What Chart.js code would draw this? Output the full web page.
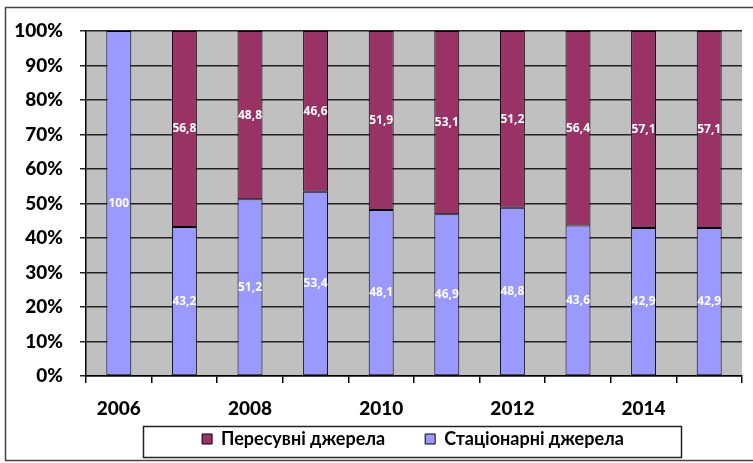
<!DOCTYPE html>
<html>
<head>
<meta charset="utf-8">
<script src="https://cdn.jsdelivr.net/npm/chart.js@4/dist/chart.umd.min.js"></script>
<style>
  html, body { margin: 0; padding: 0; background: #fff; }
  #wrap { width: 753px; height: 463px; }
</style>
</head>
<body>
<div id="wrap"><canvas id="grafik"></canvas></div>
<script>
const roky = ["2006", "2007", "2008", "2009", "2010", "2011", "2012", "2013", "2014", "2015"];
const stacionarni = [100, 43.2, 51.2, 53.4, 48.1, 46.9, 48.8, 43.6, 42.9, 42.9];
const peresuvni = [0, 56.8, 48.8, 46.6, 51.9, 53.1, 51.2, 56.4, 57.1, 57.1];
const vidsotky = [0, 10, 20, 30, 40, 50, 60, 70, 80, 90, 100];

const shryft = "Lato, 'Open Sans', sans-serif";

// сірий фон області побудови + рамки
const fonPlugin = {
    id: "fon",
    afterLayout(chart) {
        // легенда трохи правіше центру, як в оригіналі
        chart.legend.left += 42;
        chart.legend.right += 42;
    },
    beforeDraw(chart) {
        const { ctx, chartArea: a } = chart;
        ctx.save();
        ctx.fillStyle = "#C0C0C0";
        ctx.fillRect(a.left, a.top, a.right - a.left, a.bottom - a.top);
        ctx.restore();
    },
    afterDraw(chart) {
        const ctx = chart.ctx;
        ctx.save();
        // зовнішня рамка діаграми
        ctx.strokeStyle = "#444";
        ctx.lineWidth = 1.5;
        ctx.strokeRect(5.5, 7.5, 760, 453);
        // рамка легенди
        const l = chart.legend;
        ctx.strokeStyle = "#222";
        ctx.lineWidth = 1.5;
        ctx.strokeRect(143.5, l.top + 0.5, 538, l.height - 1);
        ctx.restore();
    }
};

// підписи значень у центрі сегментів
const pidpysyPlugin = {
    id: "pidpysy",
    afterDatasetsDraw(chart) {
        const ctx = chart.ctx;
        ctx.save();
        ctx.font = "bold 12px 'Open Sans', sans-serif";
        ctx.fillStyle = "#fff";
        ctx.textAlign = "center";
        ctx.textBaseline = "middle";
        chart.data.datasets.forEach((ds, i) => {
            chart.getDatasetMeta(i).data.forEach((bar, j) => {
                const v = ds.data[j];
                if (!v) return;
                ctx.fillText(String(v).replace(".", ","), bar.x, (bar.y + bar.base) / 2);
            });
        });
        ctx.restore();
    }
};

new Chart(document.getElementById("grafik"), {
    type: "bar",
    data: {
        labels: roky,
        datasets: [
            {
                label: "Стаціонарні джерела",
                data: stacionarni,
                backgroundColor: "#9999FF",
                borderColor: "#000",
                borderWidth: 1,
                borderSkipped: false
            },
            {
                label: "Пересувні джерела",
                data: peresuvni,
                backgroundColor: "#993366",
                borderColor: "#000",
                borderWidth: 1,
                borderSkipped: false
            }
        ]
    },
    options: {
        responsive: true,
        maintainAspectRatio: false,
        animation: false,
        layout: { padding: { left: 0, right: 11, top: 31, bottom: 5 } },
        datasets: { bar: { barPercentage: 0.38, categoryPercentage: 1 } },
        scales: {
            x: {
                stacked: true,
                grid: {
                    offset: true,
                    drawOnChartArea: false,
                    color: "#000",
                    tickLength: 7,
                    lineWidth: 1.5
                },
                border: { color: "#000", width: 1.5 },
                ticks: {
                    autoSkip: false,
                    maxRotation: 0,
                    padding: 14,
                    color: "#000",
                    font: { family: shryft, weight: "900", size: 19 },
                    callback: (v, i) => (i % 2 === 0 ? roky[i] : "")
                },
                afterFit(scale) { scale.height = 50; }
            },
            y: {
                stacked: true,
                min: 0,
                max: 100,
                afterBuildTicks(scale) { scale.ticks = vidsotky.map(v => ({ value: v })); },
                grid: { color: "#222", lineWidth: 1.5, tickLength: 6 },
                border: { color: "#000", width: 1.5 },
                ticks: {
                    padding: 17,
                    color: "#000",
                    font: { family: shryft, weight: "900", size: 19 },
                    callback: v => v + "%"
                },
                afterFit(scale) { scale.width = 86; }
            }
        },
        plugins: {
            tooltip: { enabled: false },
            legend: {
                position: "bottom",
                reverse: true,
                labels: {
                    color: "#000",
                    boxWidth: 10,
                    boxHeight: 10,
                    padding: 4,
                    font: { family: shryft, weight: "bold", size: 18, lineHeight: 1 },
                    generateLabels(chart) {
                        const items = Chart.defaults.plugins.legend.labels.generateLabels(chart);
                        // проміжок між елементами легенди
                        items.forEach(it => { if (it.datasetIndex === 1) it.text += "\u2003\u2003\u2002"; });
                        return items;
                    }
                }
            }
        }
    },
    plugins: [fonPlugin, pidpysyPlugin]
});
</script>
</body>
</html>
